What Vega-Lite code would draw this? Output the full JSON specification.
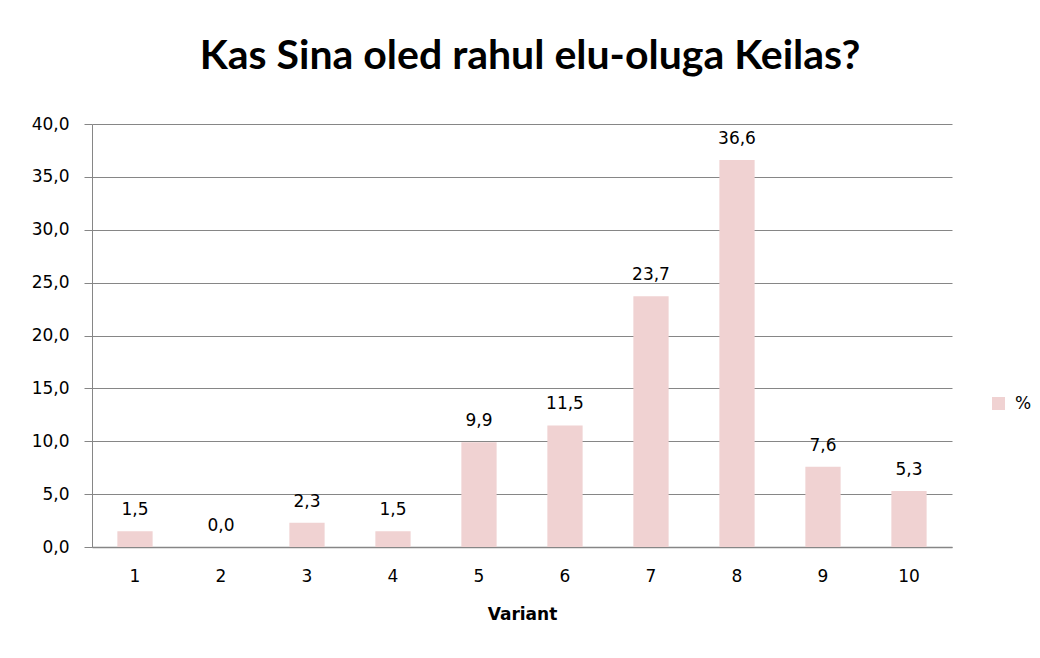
{
  "$schema": "https://vega.github.io/schema/vega-lite/v6.json",
  "autosize": "none",
  "width": 860,
  "height": 423,
  "padding": {"left": 92, "top": 124, "right": 88, "bottom": 111},
  "background": "white",
  "config": {
    "locale": {"number": {"decimal": ",", "thousands": " ", "grouping": [3], "currency": ["", " €"]}},
    "view": {"stroke": null},
    "font": "DejaVu Sans"
  },
  "title": {
    "text": "Kas Sina oled rahul elu-oluga Keilas?",
    "font": "Lato",
    "fontSize": 41,
    "fontWeight": "bold",
    "color": "black",
    "anchor": "middle",
    "dx": 8,
    "offset": 37
  },
  "data": {
    "values": [
      {"variant": "1", "pct": 1.5},
      {"variant": "2", "pct": 0.0},
      {"variant": "3", "pct": 2.3},
      {"variant": "4", "pct": 1.5},
      {"variant": "5", "pct": 9.9},
      {"variant": "6", "pct": 11.5},
      {"variant": "7", "pct": 23.7},
      {"variant": "8", "pct": 36.6},
      {"variant": "9", "pct": 7.6},
      {"variant": "10", "pct": 5.3}
    ]
  },
  "encoding": {
    "x": {
      "field": "variant",
      "type": "ordinal",
      "sort": null,
      "scale": {"paddingInner": 0.59, "paddingOuter": 0.295},
      "axis": {
        "title": "Variant",
        "titleFont": "DejaVu Sans",
        "titleFontSize": 17,
        "titleFontWeight": "bold",
        "titleColor": "black",
        "titlePadding": 22,
        "labelAngle": 0,
        "labelFontSize": 17,
        "labelColor": "black",
        "labelPadding": 21,
        "ticks": false,
        "domainColor": "#868686",
        "domainWidth": 1.5
      }
    },
    "y": {
      "field": "pct",
      "type": "quantitative",
      "scale": {"domain": [0, 40], "nice": false},
      "axis": {
        "title": null,
        "values": [0, 5, 10, 15, 20, 25, 30, 35, 40],
        "format": ".1f",
        "labelFontSize": 17,
        "labelColor": "black",
        "labelPadding": 15,
        "tickSize": 8,
        "tickColor": "#868686",
        "domainColor": "#868686",
        "gridColor": "#868686",
        "gridWidth": 1,
        "gridOpacity": 1
      }
    }
  },
  "layer": [
    {
      "mark": {"type": "bar", "color": "#F0D2D2"},
      "encoding": {
        "color": {
          "datum": "%",
          "scale": {"range": ["#F0D2D2"]},
          "legend": {
            "title": null,
            "orient": "none",
            "legendX": 898,
            "legendY": 271,
            "symbolType": "square",
            "symbolSize": 170,
            "symbolStrokeWidth": 0,
            "labelFontSize": 17,
            "labelColor": "black",
            "labelOffset": 8
          }
        }
      }
    },
    {
      "mark": {"type": "text", "baseline": "bottom", "dy": -12, "fontSize": 17, "color": "black"},
      "encoding": {
        "text": {"field": "pct", "type": "quantitative", "format": ".1f"}
      }
    }
  ]
}
